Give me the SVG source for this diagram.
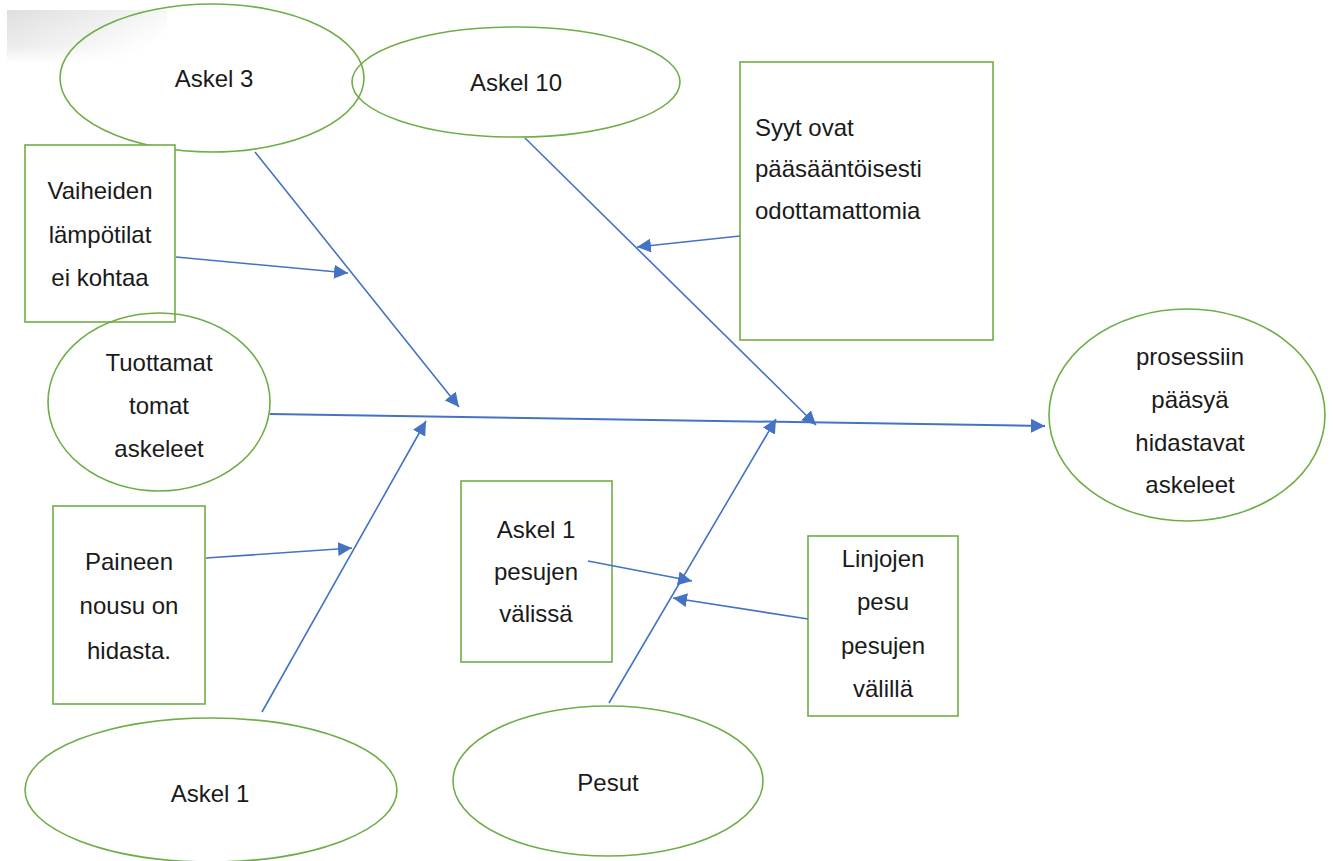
<svg xmlns="http://www.w3.org/2000/svg" width="1333" height="861" viewBox="0 0 1333 861">
<style>
.el{fill:none;stroke:#70ad47;stroke-width:1.6}
.bx{fill:#ffffff;stroke:#70ad47;stroke-width:1.6}
.t{font-family:"Liberation Sans","DejaVu Sans",sans-serif;font-size:24px;fill:#1a1a1a}
.c{text-anchor:middle}
.ln{stroke:#4472c4;stroke-width:1.6;fill:none;marker-end:url(#ah)}
</style>
<defs>
<marker id="ah" markerUnits="userSpaceOnUse" markerWidth="16" markerHeight="14" refX="14" refY="7" orient="auto">
<path d="M0,0 L14,7 L0,14 Z" fill="#4472c4"/>
</marker>
<linearGradient id="sh" x1="0" y1="0" x2="1" y2="0.5">
<stop offset="0" stop-color="#dedede"/>
<stop offset="0.6" stop-color="#f0f0f0"/>
<stop offset="1" stop-color="#ffffff"/>
</linearGradient>
<linearGradient id="shv" x1="0" y1="0" x2="0" y2="1">
<stop offset="0" stop-color="#ffffff" stop-opacity="0"/>
<stop offset="0.7" stop-color="#ffffff" stop-opacity="0.2"/>
<stop offset="1" stop-color="#ffffff" stop-opacity="0.9"/>
</linearGradient>
</defs>
<rect width="1333" height="861" fill="#ffffff"/>
<rect x="7" y="10" width="160" height="52" fill="url(#sh)"/>
<rect x="7" y="10" width="160" height="52" fill="url(#shv)"/>

<g id="askel3"><ellipse class="el" cx="212" cy="78" rx="152" ry="74"/><text class="t c" x="214" y="87">Askel 3</text></g>
<g id="askel10"><ellipse class="el" cx="516" cy="82" rx="164" ry="55"/><text class="t c" x="516" y="91">Askel 10</text></g>
<g id="vaiheiden"><rect class="bx" x="25" y="145" width="150" height="177"/>
<text class="t c" x="100" y="199">Vaiheiden</text><text class="t c" x="100" y="243">lämpötilat</text><text class="t c" x="100" y="286">ei kohtaa</text></g>
<g id="tuottamat"><ellipse class="el" cx="159" cy="402" rx="111" ry="89"/>
<text class="t c" x="159" y="371">Tuottamat</text><text class="t c" x="159" y="414">tomat</text><text class="t c" x="159" y="457">askeleet</text></g>
<g id="syyt"><rect class="bx" x="740" y="62" width="253" height="278"/>
<text class="t" x="755" y="136">Syyt ovat</text><text class="t" x="755" y="177">pääsääntöisesti</text><text class="t" x="755" y="219">odottamattomia</text></g>
<g id="tulos"><ellipse class="el" cx="1187" cy="415" rx="138" ry="106"/>
<text class="t c" x="1190" y="365">prosessiin</text><text class="t c" x="1190" y="408">pääsyä</text><text class="t c" x="1190" y="451">hidastavat</text><text class="t c" x="1190" y="493">askeleet</text></g>
<g id="paineen"><rect class="bx" x="53" y="506" width="152" height="198"/>
<text class="t c" x="129" y="570">Paineen</text><text class="t c" x="129" y="614">nousu on</text><text class="t c" x="129" y="659">hidasta.</text></g>
<g id="askel1"><ellipse class="el" cx="211" cy="790" rx="186" ry="72"/><text class="t c" x="210" y="802">Askel 1</text></g>
<g id="askel1pesujen"><rect class="bx" x="461" y="481" width="151" height="181"/>
<text class="t c" x="536" y="538">Askel 1</text><text class="t c" x="536" y="580">pesujen</text><text class="t c" x="536" y="622">välissä</text></g>
<g id="linjojen"><rect class="bx" x="808" y="536" width="150" height="180"/>
<text class="t c" x="883" y="567">Linjojen</text><text class="t c" x="883" y="610">pesu</text><text class="t c" x="883" y="654">pesujen</text><text class="t c" x="883" y="697">välillä</text></g>
<g id="pesut"><ellipse class="el" cx="608" cy="781" rx="155" ry="75"/><text class="t c" x="608" y="791">Pesut</text></g>

<g id="connectors">
<line class="ln" x1="270" y1="414" x2="1045" y2="426" style="stroke-width:2"/>
<line class="ln" x1="255" y1="152" x2="459" y2="407"/>
<line class="ln" x1="176" y1="257" x2="348" y2="273"/>
<line class="ln" x1="525" y1="138" x2="816" y2="425"/>
<line class="ln" x1="740" y1="236" x2="637" y2="247"/>
<line class="ln" x1="262" y1="712" x2="426" y2="421"/>
<line class="ln" x1="206" y1="558" x2="352" y2="548"/>
<line class="ln" x1="609" y1="703" x2="776" y2="419"/>
<line class="ln" x1="588" y1="561" x2="692" y2="581"/>
<line class="ln" x1="808" y1="619" x2="673" y2="598"/>
</g>
</svg>
